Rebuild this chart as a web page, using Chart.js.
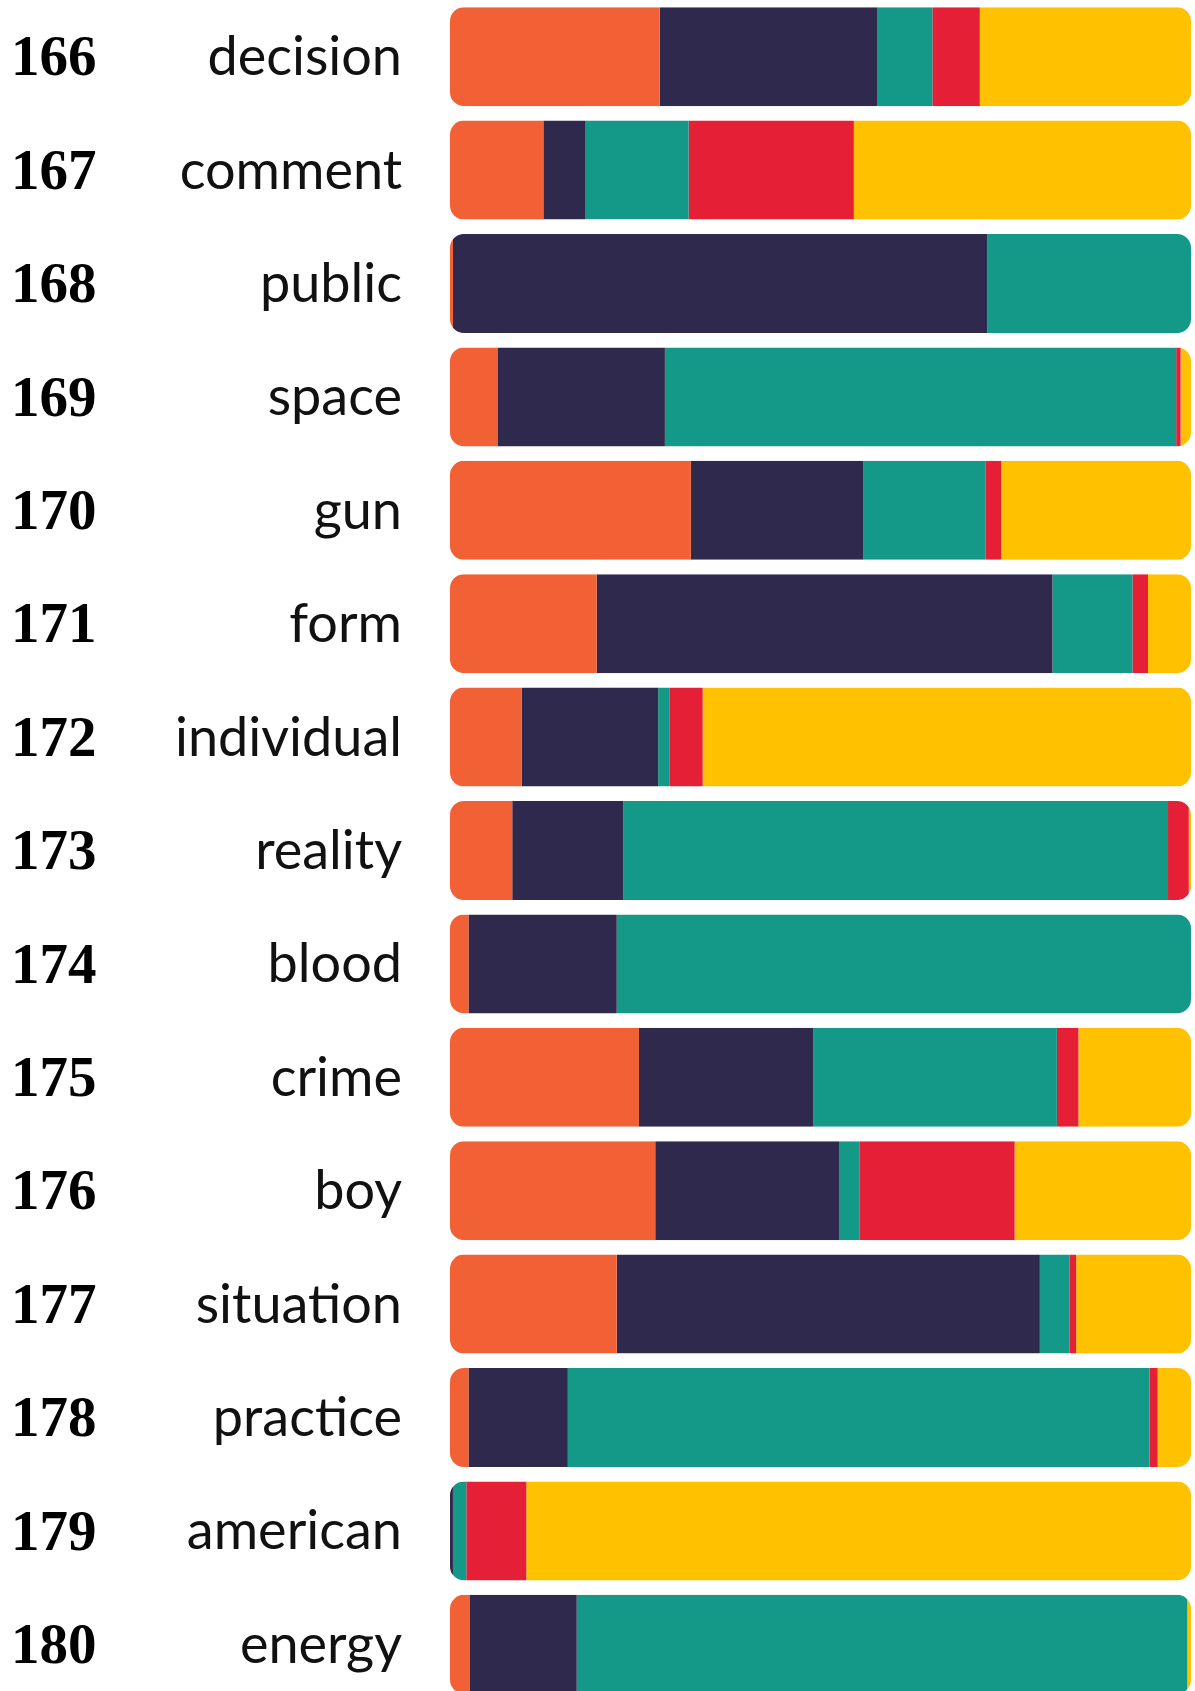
<!DOCTYPE html>
<html>
<head>
<meta charset="utf-8">
<script src="https://cdn.jsdelivr.net/npm/chart.js@4/dist/chart.umd.min.js"></script>
<style>
  html, body { margin: 0; padding: 0; background: #fff; overflow: hidden; }
  #wrap { width: 1195px; height: 1691px; overflow: hidden; }
</style>
</head>
<body>
<div id="wrap"><canvas id="bars" width="1195" height="1701"></canvas></div>
<script>
// rows of the chart
const ranks = ['166', '167', '168', '169', '170', '171', '172', '173', '174', '175', '176', '177', '178', '179', '180'];
const words = ['decision', 'comment', 'public', 'space', 'gun', 'form', 'individual', 'reality', 'blood', 'crime', 'boy', 'situation', 'practice', 'american', 'energy'];

// share of each segment, percent of the bar
const orange = [28.3, 12.6, 0.4, 6.4, 32.5, 19.8, 9.7, 8.4, 2.5, 25.5, 27.7, 22.5, 2.5, 0, 2.7];
const navy   = [29.4, 5.7, 72.1, 22.6, 23.3, 61.5, 18.4, 15.0, 20.0, 23.5, 24.8, 57.1, 13.4, 0.4, 14.4];
const teal   = [7.4, 13.9, 27.5, 69.0, 16.5, 10.8, 1.5, 73.5, 77.5, 32.9, 2.8, 4.0, 78.5, 1.8, 82.4];
const red    = [6.4, 22.3, 0, 0.6, 2.1, 2.1, 4.5, 2.8, 0, 2.9, 20.9, 0.9, 1.1, 8.1, 0];
const yellow = [28.5, 45.5, 0, 1.4, 25.6, 5.8, 65.9, 0.3, 0, 15.2, 23.8, 15.5, 4.5, 89.7, 0.5];

const colors = ['#f26135', '#2f2a4d', '#149887', '#e41f36', '#ffc100'];

// clip every row to one rounded bar so the outer corners are round
const roundRows = {
    id: 'roundRows',
    beforeDatasetsDraw(chart) {
        const ctx = chart.ctx;
        const x = chart.scales.x;
        const left = x.getPixelForValue(0);
        const right = x.getPixelForValue(100);
        ctx.save();
        ctx.beginPath();
        chart.getDatasetMeta(0).data.forEach(bar => {
            ctx.roundRect(left, bar.y - bar.height / 2, right - left, bar.height, 14);
        });
        ctx.clip();
    },
    afterDatasetsDraw(chart) {
        chart.ctx.restore();
    }
};

// label columns have fixed widths and must not push the rows in
function fixWidth(w) {
    return scale => {
        scale.width = w;
        scale.paddingTop = 0;
        scale.paddingBottom = 0;
    };
}

const series = [orange, navy, teal, red, yellow];

new Chart(document.getElementById('bars'), {
    type: 'bar',
    data: {
        labels: words,
        datasets: series.map((vals, i) => ({
            data: vals,
            backgroundColor: colors[i],
            borderWidth: 0,
            categoryPercentage: 1,
            barPercentage: 0.873
        }))
    },
    options: {
        indexAxis: 'y',
        responsive: false,
        animation: false,
        devicePixelRatio: 1,
        layout: { padding: { left: 11, right: 4, top: 0, bottom: 0 } },
        plugins: {
            legend: { display: false },
            tooltip: { enabled: false }
        },
        scales: {
            x: { stacked: true, min: 0, max: 100, display: false },
            y: {
                stacked: true,
                position: 'left',
                weight: 0,
                grid: { display: false, drawTicks: false },
                border: { display: false },
                ticks: {
                    color: '#111',
                    padding: 48,
                    crossAlign: 'near',
                    labelOffset: 1,
                    font: { family: 'Lato, "Open Sans", sans-serif', size: 54 }
                },
                afterFit: fixWidth(309)
            },
            rank: {
                type: 'category',
                axis: 'y',
                labels: ranks,
                offset: true,
                position: 'left',
                weight: 1,
                grid: { display: false, drawTicks: false },
                border: { display: false },
                ticks: {
                    color: '#000',
                    padding: 0,
                    crossAlign: 'far',
                    labelOffset: 4,
                    font: { family: '"Liberation Serif", "DejaVu Serif", serif', size: 57, weight: 'bold' }
                },
                afterFit: fixWidth(130)
            }
        }
    },
    plugins: [roundRows]
});
</script>
</body>
</html>
